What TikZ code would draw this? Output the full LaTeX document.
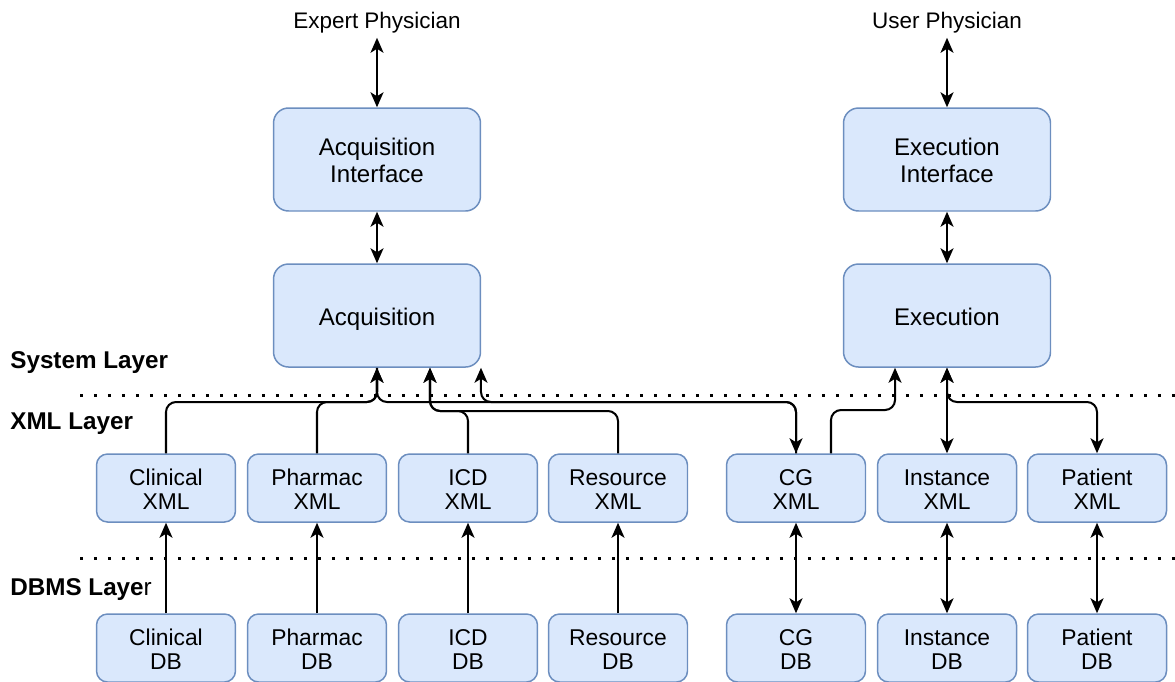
\documentclass[tikz,border=0pt]{standalone}
\usepackage{fontspec}
\setmainfont{Liberation Sans}
\usetikzlibrary{arrows.meta}
\definecolor{boxfill}{HTML}{DAE8FC}
\definecolor{boxline}{HTML}{6C8EBF}
% line box of the font: ascent plus descent
\newcommand\linestrut{\rule[-0.212em]{0pt}{1.117em}}
% two centred lines, aligned on the first baseline
\newcommand\twolines[2]{\begin{tabular}[t]{@{}c@{}}#1\\#2\end{tabular}}
\renewcommand\arraystretch{1}
\begin{document}
\begin{tikzpicture}[x=0.02cm, y=-0.02cm,
  boxbase/.style={draw=boxline, fill=boxfill, line width=0.85pt, inner sep=0pt},
  bigbox/.style={boxbase, rounded corners=0.3cm,
    minimum width=4.14cm, minimum height=2.06cm,
    text height=0.4cm, text depth=0.56cm,
    font=\fontsize{13.7}{15.6}\selectfont},
  oneline/.style={text height=0.4cm, text depth=0.02cm},
  smallbox/.style={boxbase, rounded corners=0.22cm,
    minimum width=2.78cm, minimum height=1.36cm,
    text height=0.36cm, text depth=0.46cm,
    font=\fontsize{13}{13.8}\selectfont},
  actor/.style={font=\fontsize{12.8}{15}\selectfont, inner xsep=1pt, inner ysep=2.2pt,
    execute at begin node=\linestrut},
  layer/.style={anchor=west, font=\fontsize{13.8}{16}\selectfont\bfseries, inner sep=0pt,
    execute at begin node=\linestrut},
  conn/.style={line width=1.15pt, rounded corners=0.2cm},
  tip/.tip={Stealth[length=0.3cm, width=0.26cm, inset=0.08cm]},
  sep/.style={line width=1.7pt, dash pattern=on 0.06cm off 0.22cm}
]
\useasboundingbox (0,0) rectangle (1175,681);

% users
\node[actor] (expert) at (377,21) {Expert Physician};
\node[actor] (user) at (947,21) {User Physician};

% system layer
\node[bigbox] (acqi) at (377,159.5) {\twolines{Acquisition}{Interface}};
\node[bigbox, oneline] (acq) at (377,315.5) {Acquisition};
\node[bigbox] (exei) at (947,159.5) {\twolines{Execution}{Interface}};
\node[bigbox, oneline] (exe) at (947,315.5) {Execution};

% layer separators and labels
\coordinate (s1a) at (80,395);
\coordinate (s1b) at (1175,395);
\coordinate (s2a) at (80,558);
\coordinate (s2b) at (1175,558);
\draw[sep] (s1a) -- (s1b);
\draw[sep] (s2a) -- (s2b);
\node[layer] (lsys) at (10,360) {System Layer};
\node[layer] (lxml) at (10,421) {XML Layer};
\node[layer] (ldb) at (10,587) {DBMS Laye\mdseries r};

% XML layer
\node[smallbox] (cxml) at (166,488) {\twolines{Clinical}{XML}};
\node[smallbox] (pxml) at (317,488) {\twolines{Pharmac}{XML}};
\node[smallbox] (ixml) at (468,488) {\twolines{ICD}{XML}};
\node[smallbox] (rxml) at (618,488) {\twolines{Resource}{XML}};
\node[smallbox] (gxml) at (796,488) {\twolines{CG}{XML}};
\node[smallbox] (nxml) at (947,488) {\twolines{Instance}{XML}};
\node[smallbox] (txml) at (1097,488) {\twolines{Patient}{XML}};

% DBMS layer
\node[smallbox] (cdb) at (166,648) {\twolines{Clinical}{DB}};
\node[smallbox] (pdb) at (317,648) {\twolines{Pharmac}{DB}};
\node[smallbox] (idb) at (468,648) {\twolines{ICD}{DB}};
\node[smallbox] (rdb) at (618,648) {\twolines{Resource}{DB}};
\node[smallbox] (gdb) at (796,648) {\twolines{CG}{DB}};
\node[smallbox] (ndb) at (947,648) {\twolines{Instance}{DB}};
\node[smallbox] (tdb) at (1097,648) {\twolines{Patient}{DB}};

% user interaction
\draw[conn, tip-tip] (expert) -- (acqi.north);
\draw[conn, tip-tip] (acqi.south) -- (acq.north);
\draw[conn, tip-tip] (user) -- (exei.north);
\draw[conn, tip-tip] (exei.south) -- (exe.north);

% XML documents feeding acquisition
\draw[conn, -tip] (cxml.north) |- (acq.south |- 0,402) -- (acq.south);
\draw[conn, -tip] (pxml.north) |- (acq.south |- 0,402) -- (acq.south);
\draw[conn, -tip] (ixml.north) |- ([xshift=1.06cm]acq.south |- 0,411) -- ([xshift=1.06cm]acq.south);
\draw[conn, -tip] (rxml.north) |- ([xshift=1.06cm]acq.south |- 0,411) -- ([xshift=1.06cm]acq.south);

% clinical guideline exchange
\draw[conn, -tip] (acq.south) -- (acq.south |- 0,402) -| (gxml.north);
\draw[conn, -tip] (gxml.north) |- ([xshift=2.08cm]acq.south |- 0,402) -- ([xshift=2.08cm]acq.south);
\draw[conn, -tip] ([xshift=0.7cm]gxml.north) |- ([xshift=-1.04cm]exe.south |- 0,410) -- ([xshift=-1.04cm]exe.south);

% execution data
\draw[conn, tip-tip] (exe.south) -- (nxml.north);
\draw[conn, tip-tip] (exe.south) -- (exe.south |- 0,402) -| (txml.north);

% databases to XML
\draw[conn, -tip] (cdb.north) -- (cxml.south);
\draw[conn, -tip] (pdb.north) -- (pxml.south);
\draw[conn, -tip] (idb.north) -- (ixml.south);
\draw[conn, -tip] (rdb.north) -- (rxml.south);
\draw[conn, tip-tip] (gdb.north) -- (gxml.south);
\draw[conn, tip-tip] (ndb.north) -- (nxml.south);
\draw[conn, tip-tip] (tdb.north) -- (txml.south);
\end{tikzpicture}
\end{document}
